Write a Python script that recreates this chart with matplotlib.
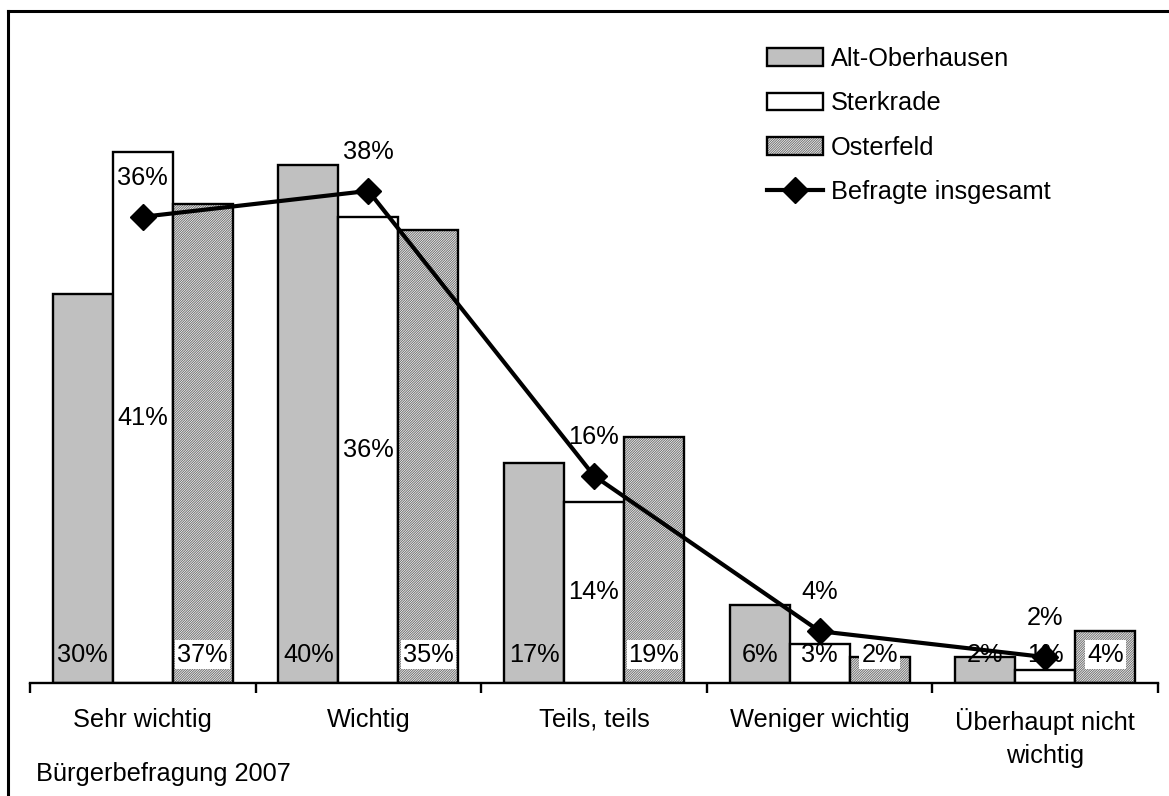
import matplotlib
matplotlib.use("Agg")
import matplotlib.pyplot as plt
from matplotlib.patches import Patch
from matplotlib.lines import Line2D
import numpy as np

plt.rcParams['font.family'] = ['Liberation Sans', 'DejaVu Sans']
plt.rcParams['hatch.linewidth'] = 0.7

categories = ["Sehr wichtig", "Wichtig", "Teils, teils", "Weniger wichtig",
              "Überhaupt nicht\nwichtig"]
alt_oberhausen = [30, 40, 17, 6, 2]
sterkrade = [41, 36, 14, 3, 1]
osterfeld = [37, 35, 19, 2, 4]
insgesamt = [36, 38, 16, 4, 2]
series_names = ["Alt-Oberhausen", "Sterkrade", "Osterfeld", "Befragte insgesamt"]
source_note = "Bürgerbefragung 2007"

FS = 18.3
HATCH = "/" * 14
HATCH_COLOR = "#6e6e6e"
W, H = 1169, 796
fig = plt.figure(figsize=(W / 100, H / 100), dpi=100)

# outer frame (top and left edges)
fig.add_artist(Line2D([8 / W, 8 / W], [0, 1 - 11 / H], transform=fig.transFigure,
                      color="black", lw=2.2))
fig.add_artist(Line2D([8 / W, 1], [1 - 11 / H, 1 - 11 / H], transform=fig.transFigure,
                      color="black", lw=2.2))

ax_left, ax_right = 30 / W, 1158 / W
ax_bottom = (H - 683) / H
ax_height = 647.5 / H
ax = fig.add_axes([ax_left, ax_bottom, ax_right - ax_left, ax_height])

x = np.arange(len(categories))
bw = 0.266

ax.bar(x - bw, alt_oberhausen, bw, color="#C0C0C0", edgecolor="black", lw=1.7, zorder=2)
ax.bar(x, sterkrade, bw, color="white", edgecolor="black", lw=1.7, zorder=2)
# hatched fill, then a black outline on top
ax.bar(x + bw, osterfeld, bw, color="white", edgecolor=HATCH_COLOR, hatch=HATCH,
       lw=0, zorder=2)
ax.bar(x + bw, osterfeld, bw, fill=False, edgecolor="black", lw=1.7, zorder=2.1)

ax.plot(x, insgesamt, color="black", lw=3, marker="D", markersize=13, zorder=5)

label_y = 2.2
for i in range(len(categories)):
    ax.text(x[i] - bw, label_y, f"{alt_oberhausen[i]}%", ha="center", va="center",
            fontsize=FS, zorder=3)
    ax.text(x[i], max(sterkrade[i] / 2, label_y), f"{sterkrade[i]}%", ha="center",
            va="center", fontsize=FS, zorder=3)
    ax.text(x[i] + bw, label_y, f"{osterfeld[i]}%", ha="center", va="center",
            fontsize=FS, zorder=3,
            bbox=dict(boxstyle="square,pad=0.08", fc="white", ec="none"))
    ax.annotate(f"{insgesamt[i]}%", (x[i], insgesamt[i]), xytext=(0, 28),
                textcoords="offset points", ha="center", va="center",
                fontsize=FS, zorder=6)

ax.set_xlim(-0.5, len(categories) - 0.5)
ax.set_ylim(0, 50)
for s in ["top", "left", "right"]:
    ax.spines[s].set_visible(False)
ax.spines["bottom"].set_linewidth(1.7)
ax.set_yticks([])
ax.set_xticks(np.arange(-0.5, len(categories), 1.0))
ax.set_xticklabels([])
ax.tick_params(axis="x", which="major", direction="out", length=7, width=1.7)
ax.set_xticks(x, minor=True)
ax.set_xticklabels(categories, minor=True, fontsize=FS, linespacing=1.45)
ax.tick_params(axis="x", which="minor", length=0, pad=18)

handles = [
    Patch(facecolor="#C0C0C0", edgecolor="black", lw=1.7),
    Patch(facecolor="white", edgecolor="black", lw=1.7),
    Patch(facecolor="white", edgecolor=HATCH_COLOR, hatch=HATCH, lw=0),
    Line2D([], [], color="black", lw=3, marker="D", markersize=13),
]
outline = Patch(fill=False, edgecolor="black", lw=1.7)
leg = ax.legend([handles[0], handles[1], (handles[2], outline), handles[3]], series_names,
                loc="upper left",
                bbox_to_anchor=(767 / W, 1 - 47 / H), bbox_transform=fig.transFigure,
                frameon=False, fontsize=FS, handlelength=2.2, handleheight=0.7,
                handletextpad=0.3, labelspacing=0.8, borderpad=0, borderaxespad=0)

fig.text(36 / W, 1 - 774 / H, source_note, ha="left", va="center", fontsize=FS)

fig.savefig("out.png", dpi=100)
